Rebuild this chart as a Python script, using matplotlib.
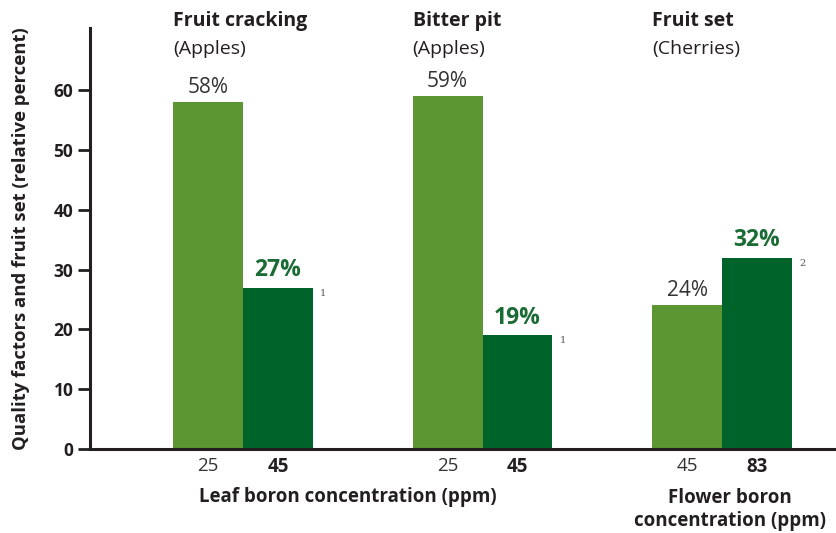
import numpy as np
import matplotlib
matplotlib.use('Agg')
import matplotlib.pyplot as plt

## DATA ##
groups = ['Fruit cracking', 'Bitter pit', 'Fruit set']
crops = ['(Apples)', '(Apples)', '(Cherries)']
low_ppm = ['25', '25', '45']
high_ppm = ['45', '45', '83']
low_vals = [58, 59, 24]
high_vals = [27, 19, 32]
notes = ['1', '1', '2']

## STYLE ##
LIGHT = '#5b9632'
DARK = '#00632a'
LABEL_GREEN = '#1b6b34'
INK = '#231f20'
GREY = '#333333'
plt.rcParams['font.family'] = ['Open Sans', 'DejaVu Sans']

fig = plt.figure(figsize=(8.36, 5.33), dpi=100)
ax = fig.add_axes([90/836, 84/533, 746/836, 421/533])

x = np.arange(len(groups))
w = 0.292

b1 = ax.bar(x - w/2, low_vals, w, color=LIGHT)
b2 = ax.bar(x + w/2, high_vals, w, color=DARK)

# value labels on top of bars
for rect, v in zip(b1, low_vals):
    ax.annotate('%d%%' % v, (rect.get_x() + rect.get_width()/2, v),
                xytext=(0, 3), textcoords='offset points',
                ha='center', va='bottom', fontsize=15, color=GREY)
for rect, v, n in zip(b2, high_vals, notes):
    ax.annotate('%d%%' % v, (rect.get_x() + rect.get_width()/2, v),
                xytext=(0, 4), textcoords='offset points',
                ha='center', va='bottom', fontsize=16.5, fontweight='bold',
                color=LABEL_GREEN)
    # footnote marker
    ax.annotate(n, (rect.get_x() + rect.get_width(), v),
                xytext=(5, -4), textcoords='offset points',
                ha='left', va='center', fontsize=7, color='#555555',
                family='DejaVu Serif')

# group titles above the plot
for xi, g, c in zip(x, groups, crops):
    ax.text(xi - w, 71.6, g, ha='left', va='center', fontsize=14,
            fontweight='bold', color=INK, clip_on=False)
    ax.text(xi - w, 66.9, c, ha='left', va='center', fontsize=14,
            color=INK, clip_on=False)

# x tick labels: low regular, high bold
pos = np.concatenate([x - w/2, x + w/2])
ax.set_xticks(pos, low_ppm + high_ppm)
for i, t in enumerate(ax.get_xticklabels()):
    t.set_fontsize(13.5)
    if i < len(groups):
        t.set_color(GREY)
    else:
        t.set_fontweight('bold')
        t.set_color(INK)
ax.tick_params(axis='x', length=0, pad=6)

ax.set_yticks(np.arange(0, 70, 10))
ax.tick_params(axis='y', length=9, width=2, color=INK, labelsize=12.5,
               labelcolor=INK, pad=3)
for t in ax.get_yticklabels():
    t.set_fontweight('bold')

ax.set_xlim(-0.639, 2.476)
ax.set_ylim(0, 70.4)

for s in ['top', 'right']:
    ax.spines[s].set_visible(False)
for s in ['left', 'bottom']:
    ax.spines[s].set_linewidth(2.2)
    ax.spines[s].set_color(INK)

ax.set_ylabel('Quality factors and fruit set (relative percent)',
              fontsize=13.3, fontweight='bold', color=INK)
ax.yaxis.set_label_coords(-0.08, 0.5)

trans = ax.get_xaxis_transform()
ax.text(0.438, -0.114, 'Leaf boron concentration (ppm)', transform=trans,
        ha='center', va='center', fontsize=13.5, fontweight='bold', color=INK)
ax.text(2.033, -0.144, 'Flower boron\nconcentration (ppm)', transform=trans,
        ha='center', va='center', fontsize=13.5, fontweight='bold', color=INK,
        linespacing=1.2)

fig.savefig('out.png', dpi=100)
